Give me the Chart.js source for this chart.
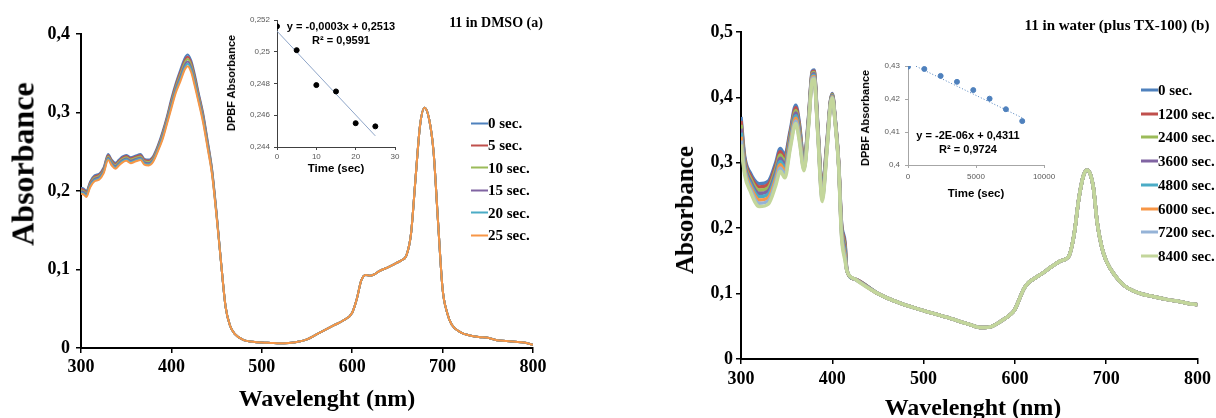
<!DOCTYPE html>
<html>
<head>
<meta charset="utf-8">
<script src="https://cdn.jsdelivr.net/npm/chart.js@4.4.1/dist/chart.umd.min.js"></script>
<style>
    html, body { margin: 0; padding: 0; background: #fff; }
    #wrap { position: relative; width: 1216px; height: 418px; overflow: hidden; }
    canvas { position: absolute; }
    .txt { position: absolute; white-space: nowrap; color: #000; font-weight: bold; transform: translate(-50%, -50%); }
    .serif { font-family: 'Liberation Serif', 'Times New Roman', serif; }
    .sans { font-family: 'Liberation Sans', Arial, sans-serif; }
    .rot { transform: translate(-50%, -50%) rotate(-90deg); }
    .leg-item { position: absolute; display: flex; align-items: center; transform: translateY(-50%);
                font-family: 'Liberation Serif', 'Times New Roman', serif; font-weight: bold; font-size: 15px; }
    .leg-line { display: inline-block; width: 17px; }
</style>
</head>
<body>
<div id="wrap">
    <canvas id="mainA" width="600" height="418" style="left:0;top:0"></canvas>
    <canvas id="mainB" width="616" height="418" style="left:600px;top:0"></canvas>
    <canvas id="insetA" width="195" height="175" style="left:215px;top:5px"></canvas>
    <canvas id="insetB" width="220" height="140" style="left:840px;top:50px"></canvas>

    <div class="txt serif" style="left:496px;top:23px;font-size:14px">11 in DMSO (a)</div>
    <div class="txt serif" style="left:1117px;top:25px;font-size:15px">11 in water (plus TX-100) (b)</div>

    <div class="txt serif rot" style="left:23px;top:164px;font-size:32px">Absorbance</div>
    <div class="txt serif" style="left:327px;top:398px;font-size:24px">Wavelenght (nm)</div>
    <div class="txt serif rot" style="left:685px;top:210px;font-size:25px">Absorbance</div>
    <div class="txt serif" style="left:973px;top:407px;font-size:24px">Wavelenght (nm)</div>

    <div class="txt sans rot" style="left:231px;top:83px;font-size:11px">DPBF Absorbance</div>
    <div class="txt sans" style="left:336px;top:168px;font-size:11.5px">Time (sec)</div>
    <div class="txt sans" style="left:341px;top:26px;font-size:11px">y = -0,0003x + 0,2513</div>
    <div class="txt sans" style="left:341px;top:40px;font-size:11px">R² = 0,9591</div>

    <div class="txt sans rot" style="left:865px;top:118px;font-size:11px">DPBF Absorbance</div>
    <div class="txt sans" style="left:976px;top:193px;font-size:11.5px">Time (sec)</div>
    <div class="txt sans" style="left:968px;top:135px;font-size:11px">y = -2E-06x + 0,4311</div>
    <div class="txt sans" style="left:968px;top:149px;font-size:11px">R² = 0,9724</div>

    <div id="legendA"></div>
    <div id="legendB"></div>
</div>

<script>
/* ===== data: panel (a) 11 in DMSO ===== */
var namesA  = ['0 sec.', '5 sec.', '10 sec.', '15 sec.', '20 sec.', '25 sec.'];
var colorsA = ['#4F81BD', '#C0504D', '#9BBB59', '#8064A2', '#4BACC6', '#F79646'];

var wlHeadA = [300, 303, 306, 310, 315, 320, 325, 330, 334, 338, 342, 346, 350, 355, 360, 366, 370,
               375, 380, 385, 390, 395, 400, 405, 410, 415, 418, 422, 426, 430, 435, 440, 445, 450];
var absA0 = [.204, .203, .200, .212, .220, .222, .230, .247, .240, .236, .240, .244, .246, .243, .245, .247, .241,
             .240, .245, .258, .275, .295, .318, .338, .355, .370, .374, .366, .348, .326, .300, .265, .228, .172];
var absA1 = [.2025, .2015, .1985, .2105, .2185, .2205, .2285, .2455, .2385, .2345, .2385, .2425, .2445, .2415, .2435, .2455, .2395,
             .2385, .2435, .2565, .273, .293, .3155, .3355, .352, .367, .371, .363, .345, .3235, .2975, .263, .2265, .171];
var absA2 = [.201, .200, .197, .209, .217, .219, .227, .244, .237, .233, .237, .241, .243, .240, .242, .244, .238,
             .237, .242, .255, .271, .291, .313, .333, .349, .364, .368, .360, .342, .321, .295, .261, .225, .170];
var absA3 = [.1995, .1985, .1955, .2075, .2155, .2175, .2255, .2425, .2355, .2315, .2355, .2395, .2415, .2385, .2405, .2425, .2365,
             .2355, .2405, .2535, .269, .289, .3105, .3305, .346, .361, .365, .357, .339, .3185, .2925, .259, .2235, .169];
var absA4 = [.198, .197, .194, .206, .214, .216, .224, .241, .234, .230, .234, .238, .240, .237, .239, .241, .235,
             .234, .239, .252, .267, .287, .308, .328, .343, .358, .362, .354, .336, .316, .290, .257, .222, .168];
var absA5 = [.1965, .1955, .1925, .2045, .2125, .2145, .2225, .2395, .2325, .2285, .2325, .2365, .2385, .2355, .2375, .2395, .2335,
             .2325, .2375, .2505, .265, .285, .3055, .3255, .340, .355, .359, .351, .333, .3135, .2875, .255, .2205, .167];

// all six curves overlap from 455 nm on
var wlTailA  = [455, 460, 465, 470, 480, 490, 500, 510, 520, 530, 540, 550, 560, 570, 580, 590, 600, 605, 610, 615,
                620, 625, 630, 640, 650, 655, 660, 665, 670, 675, 680, 685, 690, 695, 700, 705, 710, 720, 730, 740,
                750, 760, 770, 780, 790, 800];
var absTailA = [.108, .052, .028, .018, .010, .008, .007, .0065, .006, .0065, .008, .011, .017, .023, .029, .035, .045, .062, .086, .093,
                .092, .094, .098, .103, .109, .112, .118, .145, .215, .283, .306, .292, .250, .160, .075, .045, .030, .020, .016, .014,
                .013, .010, .009, .008, .007, .004];

var timeA  = [0, 5, 10, 15, 20, 25];
var dpbfA  = [0.2516, 0.2501, 0.2479, 0.2475, 0.2455, 0.2453];
var trendTA = [0, 25];
var trendYA = [0.2513, 0.2447];

/* ===== data: panel (b) 11 in water (plus TX-100) ===== */
var namesB  = ['0 sec.', '1200 sec.', '2400 sec.', '3600 sec.', '4800 sec.', '6000 sec.', '7200 sec.', '8400 sec.'];
var colorsB = ['#4F81BD', '#C0504D', '#9BBB59', '#8064A2', '#4BACC6', '#F79646', '#95B3D7', '#C3D69B'];

var wlHeadB = [300, 304, 310, 320, 330, 338, 343, 348, 354, 360, 364, 369, 374, 378, 380, 384, 389, 394, 398, 400, 403, 407, 410, 414, 416];
var absB0 = [.370, .310, .285, .268, .272, .300, .322, .312, .350, .388, .360, .302, .370, .440, .442, .360, .262, .330, .395, .406, .370, .300, .210, .178, .135];
var absB1 = [.364, .306, .281, .263, .267, .295, .317, .307, .346, .384, .356, .300, .368, .438, .440, .358, .259, .328, .394, .405, .369, .299, .207, .174, .135];
var absB2 = [.358, .302, .277, .258, .262, .290, .312, .302, .342, .380, .352, .298, .366, .436, .438, .356, .256, .326, .393, .404, .368, .298, .204, .170, .135];
var absB3 = [.352, .298, .273, .253, .257, .285, .307, .297, .338, .376, .348, .296, .364, .434, .436, .354, .253, .324, .392, .403, .367, .297, .201, .166, .135];
var absB4 = [.346, .294, .269, .248, .252, .280, .302, .292, .334, .372, .344, .294, .362, .432, .434, .352, .250, .322, .391, .402, .366, .296, .198, .162, .135];
var absB5 = [.340, .290, .265, .243, .247, .275, .297, .287, .330, .368, .340, .292, .360, .430, .432, .350, .247, .320, .390, .401, .365, .295, .195, .158, .135];
var absB6 = [.334, .286, .261, .238, .242, .270, .292, .282, .326, .364, .336, .290, .358, .428, .430, .348, .244, .318, .389, .400, .364, .294, .192, .154, .135];
var absB7 = [.328, .282, .257, .233, .237, .265, .287, .277, .322, .360, .332, .288, .356, .426, .428, .346, .241, .316, .388, .399, .363, .293, .189, .150, .135];

var wlTailB  = [425, 450, 475, 500, 525, 550, 563, 575, 585, 595, 600, 605, 610, 615, 620, 630, 640, 650, 656, 660,
                665, 670, 675, 679, 683, 686, 690, 695, 700, 710, 720, 730, 740, 750, 760, 770, 780, 790, 800];
var absTailB = [.122, .100, .085, .074, .064, .053, .048, .050, .058, .068, .076, .092, .108, .117, .122, .131, .141, .150, .153, .160,
                .192, .245, .280, .289, .281, .262, .210, .172, .150, .127, .112, .104, .099, .096, .093, .090, .088, .085, .083];

var timeB  = [0, 1200, 2400, 3600, 4800, 6000, 7200, 8400];
var dpbfB  = [0.4298, 0.4291, 0.4270, 0.4252, 0.4227, 0.4201, 0.4169, 0.4133];
var trendTB = [0, 8400];
var trendYB = [0.4311, 0.4143];

/* ===== helpers ===== */
var SERIF = "'Liberation Serif','Times New Roman',serif";
var SANS  = "'Liberation Sans',Arial,sans-serif";

function fmtComma(v) { return String(Number(Number(v).toFixed(4))).replace('.', ','); }

function toPoints(xs, ys) {
    return xs.map(function (x, i) { return { x: x, y: ys[i] }; });
}

function spectrumSets(names, colors, heads, wlHead, wlTail, tail, width) {
    var wl = wlHead.concat(wlTail);
    return names.map(function (n, i) {
        return {
            label: n,
            data: toPoints(wl, heads[i].concat(tail)),
            borderColor: colors[i],
            backgroundColor: colors[i],
            borderWidth: width,
            pointRadius: 0,
            cubicInterpolationMode: 'monotone',
            order: names.length - i,   // last series on top, like the original
        };
    });
}

function mainOptions(yMax, padding, yWidth, xHeight, xPad, yPad) {
    var tickFont = { family: SERIF, size: 18, weight: 'bold' };
    var grid = { drawOnChartArea: false, tickLength: 5, color: '#000', lineWidth: 1.5 };
    var border = { color: '#000', width: 2 };
    return {
        responsive: false,
        animation: false,
        events: [],
        layout: { padding: padding },
        plugins: { legend: { display: false }, tooltip: { enabled: false } },
        scales: {
            x: {
                type: 'linear', min: 300, max: 800,
                ticks: { stepSize: 100, color: '#000', font: tickFont, padding: xPad, maxRotation: 0,
                         callback: function (v) { return String(v); } },
                grid: grid, border: border,
                afterFit: function (s) { s.height = xHeight; },
            },
            y: {
                min: 0, max: yMax,
                ticks: { stepSize: 0.1, color: '#000', font: tickFont, padding: yPad, callback: fmtComma },
                grid: grid, border: border,
                afterFit: function (s) { s.width = yWidth; },
            },
        },
    };
}

function insetOptions(xMax, xStep, yMin, yMax, yStep, padding, yWidth, xHeight, axisColor, xPad, yPad) {
    var tickFont = { family: SANS, size: 8 };
    var grid = { drawOnChartArea: false, tickLength: 3, color: axisColor, lineWidth: 1 };
    var border = { color: axisColor, width: 1 };
    return {
        responsive: false,
        animation: false,
        events: [],
        layout: { padding: padding },
        plugins: { legend: { display: false }, tooltip: { enabled: false } },
        scales: {
            x: {
                type: 'linear', min: 0, max: xMax,
                ticks: { stepSize: xStep, color: '#595959', font: tickFont, padding: xPad, maxRotation: 0,
                         callback: function (v) { return String(v); } },
                grid: grid, border: border,
                afterFit: function (s) { s.height = xHeight; },
            },
            y: {
                min: yMin, max: yMax,
                ticks: { stepSize: yStep, color: '#595959', font: tickFont, padding: yPad, callback: fmtComma },
                grid: grid, border: border,
                afterFit: function (s) { s.width = yWidth; },
            },
        },
    };
}

/* ===== main spectra ===== */
new Chart(document.getElementById('mainA'), {
    type: 'line',
    data: { datasets: spectrumSets(namesA, colorsA, [absA0, absA1, absA2, absA3, absA4, absA5],
                                   wlHeadA, wlTailA, absTailA, 2) },
    options: mainOptions(0.4, { left: 0, top: 34, right: 67, bottom: 0 }, 81, 70, 4, 6),
});

new Chart(document.getElementById('mainB'), {
    type: 'line',
    data: { datasets: spectrumSets(namesB, colorsB, [absB0, absB1, absB2, absB3, absB4, absB5, absB6, absB7],
                                   wlHeadB, wlTailB, absTailB, 3.5) },
    options: mainOptions(0.5, { left: 0, top: 32, right: 15, bottom: 0 }, 141, 59, 5, 3),
});

/* ===== insets: DPBF decay ===== */
new Chart(document.getElementById('insetA'), {
    type: 'scatter',
    data: {
        datasets: [
            { data: toPoints(timeA, dpbfA), pointRadius: 2.5, backgroundColor: '#000', borderColor: '#000', order: 1 },
            { type: 'line', data: toPoints(trendTA, trendYA), borderColor: '#8EA5C8', borderWidth: 1,
              pointRadius: 0, order: 2 },
        ],
    },
    options: insetOptions(30, 10, 0.244, 0.252, 0.002, { left: 0, top: 15, right: 15, bottom: 0 },
                          62, 33, '#404040', 2, 4),
});

new Chart(document.getElementById('insetB'), {
    type: 'scatter',
    data: {
        datasets: [
            { data: toPoints(timeB, dpbfB), pointRadius: 2.5, backgroundColor: '#4F81BD', borderColor: '#4F81BD', order: 1 },
            { type: 'line', data: toPoints(trendTB, trendYB), borderColor: '#4F81BD', borderWidth: 1,
              borderDash: [1, 2], pointRadius: 0, order: 2 },
        ],
    },
    options: insetOptions(10000, 5000, 0.4, 0.43, 0.01, { left: 0, top: 16, right: 16, bottom: 0 },
                          68, 25, '#A6A6A6', 4, 5),
});

/* ===== legends ===== */
function buildLegend(el, names, colors, x, y0, dy, thick) {
    names.forEach(function (n, i) {
        var item = document.createElement('div');
        item.className = 'leg-item';
        item.style.left = x + 'px';
        item.style.top = (y0 + i * dy) + 'px';
        item.innerHTML = '<span class="leg-line" style="height:' + thick + 'px;background:' + colors[i] + '"></span>'
            + '<span>' + n + '</span>';
        el.appendChild(item);
    });
}
buildLegend(document.getElementById('legendA'), namesA, colorsA, 471, 123, 22.4, 2);
buildLegend(document.getElementById('legendB'), namesB, colorsB, 1141, 90, 23.7, 3);
</script>
</body>
</html>
